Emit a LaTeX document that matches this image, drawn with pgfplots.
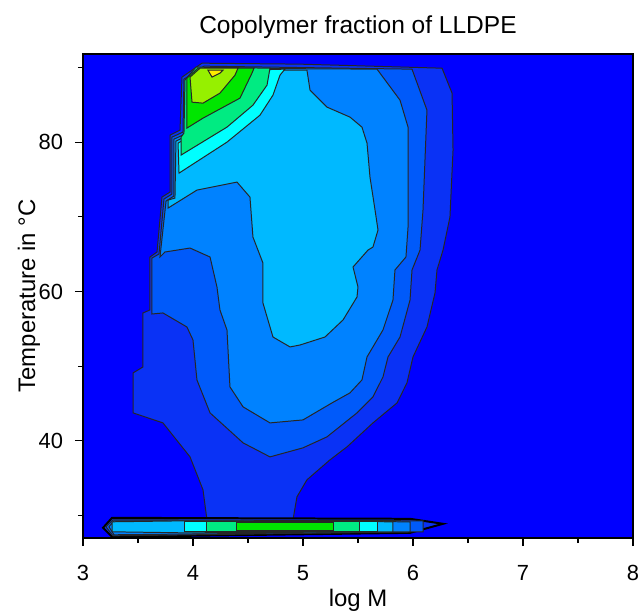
\documentclass[border=0pt]{standalone}
\usepackage{pgfplots}
\pgfplotsset{compat=1.18}
\usepackage{fontspec}
\setmainfont{Liberation Sans}
\definecolor{c0}{RGB}{0,0,255}
\definecolor{c1}{RGB}{10,50,245}
\definecolor{c2}{RGB}{0,90,250}
\definecolor{c3}{RGB}{0,130,255}
\definecolor{c4}{RGB}{0,185,255}
\definecolor{c5}{RGB}{0,255,255}
\definecolor{c6}{RGB}{0,235,130}
\definecolor{c7}{RGB}{0,230,0}
\definecolor{c8}{RGB}{150,240,0}
\definecolor{c9}{RGB}{255,235,0}
\begin{document}
\begin{tikzpicture}
\path[use as bounding box] (-41.5bp,-37bp) rectangle (278bp,269bp);
\begin{axis}[
  scale only axis, width=275bp, height=242bp,
  xmin=3, xmax=8, ymin=27, ymax=91.8,
  axis background/.style={fill=c0},
  axis on top,
  no markers,
  axis line style={black, line width=0.6pt},
  xtick={3,4,5,6,7,8}, minor xtick={3.5,4.5,5.5,6.5,7.5},
  ytick={40,60,80}, minor ytick={30,50,70,90},
  tick align=outside, xtick pos=bottom, ytick pos=left,
  major tick length=4bp, minor tick length=2.5bp,
  tick style={black, line width=0.6pt},
  /pgf/number format/assume math mode=true,
  tick label style={font=\fontsize{11}{13}\selectfont},
  xticklabel style={yshift=-6bp},
  yticklabel style={xshift=-2.5bp},
  label style={font=\fontsize{12}{14}\selectfont},
  title style={font=\fontsize{12.3}{15}\selectfont, at={(axis description cs:0.5,1)}, anchor=base, yshift=4.5bp},
  title={Copolymer fraction of LLDPE},
  xlabel={log M},
  xlabel style={at={(axis description cs:0.5,0)}, anchor=base, yshift=-34bp},
  ylabel={Temperature in °C},
  ylabel style={at={(axis description cs:0,0.5)}, anchor=center, yshift=27bp},
  every axis plot/.append style={draw=black!85, line width=0.5pt},
]
% C1
\addplot[fill=c1] coordinates {(4.082,90.57) (4.973,90.44) (6.264,89.90) (6.355,86.56) (6.364,78.93) (6.336,69.97) (6.273,65.55) (6.218,62.88) (6.200,59.80) (6.127,55.25) (6.000,51.24) (5.945,47.76) (5.855,45.09) (5.636,42.41) (5.400,39.20) (5.245,37.46) (5.036,34.79) (4.945,32.51) (4.909,29.44) (4.127,29.44) (4.091,33.45) (3.973,37.86) (3.727,42.41) (3.455,43.75) (3.455,49.10) (3.545,49.90) (3.545,57.13) (3.609,57.53) (3.609,64.62) (3.673,65.29) (3.718,72.64) (3.791,73.31) (3.791,80.94) (3.882,81.61) (3.900,88.70)} --cycle;
% C2
\addplot[fill=c2] coordinates {(4.100,90.17) (5.991,89.77) (6.127,84.28) (6.109,77.59) (6.091,70.90) (6.064,65.55) (5.991,62.88) (5.973,58.86) (5.882,53.91) (5.773,51.24) (5.727,48.56) (5.636,45.89) (5.491,43.75) (5.218,40.54) (5.000,39.07) (4.700,37.86) (4.455,39.74) (4.155,43.75) (4.036,48.16) (4.000,53.51) (3.945,55.25) (3.727,57.13) (3.627,56.99) (3.627,64.48) (3.691,65.02) (3.736,72.38) (3.809,73.05) (3.809,80.67) (3.909,81.34) (3.918,88.43)} --cycle;
% C3
\addplot[fill=c3] coordinates {(4.118,89.90) (5.673,89.77) (5.727,88.70) (5.882,85.62) (5.955,82.01) (5.955,75.32) (5.955,68.63) (5.936,64.62) (5.836,62.88) (5.818,58.86) (5.727,54.85) (5.582,51.24) (5.536,48.16) (5.427,46.43) (5.264,45.09) (5.000,42.81) (4.700,42.41) (4.455,44.56) (4.336,47.23) (4.309,54.85) (4.245,57.53) (4.218,60.60) (4.155,64.62) (3.973,65.82) (3.745,65.29) (3.700,64.62) (3.755,72.11) (3.827,72.78) (3.827,80.40) (3.927,81.07) (3.936,88.30)} --cycle;
% C4
\addplot[fill=c4] coordinates {(4.127,89.64) (5.036,89.64) (5.064,86.96) (5.218,84.69) (5.427,83.35) (5.536,82.01) (5.582,79.87) (5.609,75.32) (5.655,70.90) (5.682,68.23) (5.636,65.95) (5.591,65.55) (5.455,63.28) (5.500,60.60) (5.491,59.27) (5.364,56.19) (5.200,53.91) (4.973,52.84) (4.882,52.58) (4.727,53.91) (4.636,58.46) (4.636,63.81) (4.545,67.29) (4.518,72.64) (4.400,74.65) (4.036,73.58) (3.773,71.17) (3.773,72.24) (3.836,72.51) (3.845,80.13) (3.936,80.81) (3.955,88.03)} --cycle;
% C5
\addplot[fill=c5] coordinates {(4.127,89.50) (4.836,89.77) (4.791,88.97) (4.727,86.29) (4.609,83.61) (4.309,80.00) (3.873,75.85) (3.864,79.87) (3.945,80.54) (3.955,87.76)} --cycle;
% C6
\addplot[fill=c6] coordinates {(4.027,90.04) (4.700,89.90) (4.673,87.63) (4.545,84.95) (4.309,82.01) (3.891,78.26) (3.891,80.67) (3.918,81.21) (3.927,88.30)} --cycle;
% C7
\addplot[fill=c7] coordinates {(4.045,89.90) (4.555,89.90) (4.536,89.23) (4.427,85.89) (4.091,83.21) (3.945,81.88) (3.945,88.56)} --cycle;
% C8
\addplot[fill=c8] coordinates {(4.064,89.90) (4.409,89.90) (4.382,88.97) (4.245,86.56) (4.091,85.22) (3.991,85.35) (3.973,88.70)} --cycle;
% C9
\addplot[fill=c9] coordinates {(4.136,89.64) (4.273,89.64) (4.245,89.23) (4.173,88.70)} --cycle;
% bottom strip
\addplot[fill=c1, line width=1pt, draw=black] coordinates {(3.182,28.36) (3.264,29.70) (5.973,29.57) (6.273,28.90) (5.973,27.69) (3.264,27.16)} --cycle;
\addplot[fill=c2] coordinates {(3.209,28.50) (3.273,29.44) (6.091,29.30) (6.091,27.83) (3.273,27.29)} --cycle;
\addplot[fill=c3] coordinates {(3.236,28.50) (3.282,29.30) (5.973,29.17) (5.973,27.83) (3.282,27.43)} --cycle;
\addplot[fill=c4] coordinates {(3.264,29.17) (3.927,29.30) (5.818,29.17) (5.818,27.83) (3.927,27.69) (3.264,27.83)} --cycle;
\addplot[fill=c5] coordinates {(3.927,29.17) (5.673,29.17) (5.673,27.83) (3.927,27.83)} --cycle;
\addplot[fill=c6] coordinates {(4.127,29.17) (5.518,29.17) (5.518,27.83) (4.127,27.83)} --cycle;
\addplot[fill=c7] coordinates {(4.400,29.03) (5.273,29.03) (5.273,27.96) (4.400,27.96)} --cycle;
\end{axis}
\end{tikzpicture}
\end{document}
